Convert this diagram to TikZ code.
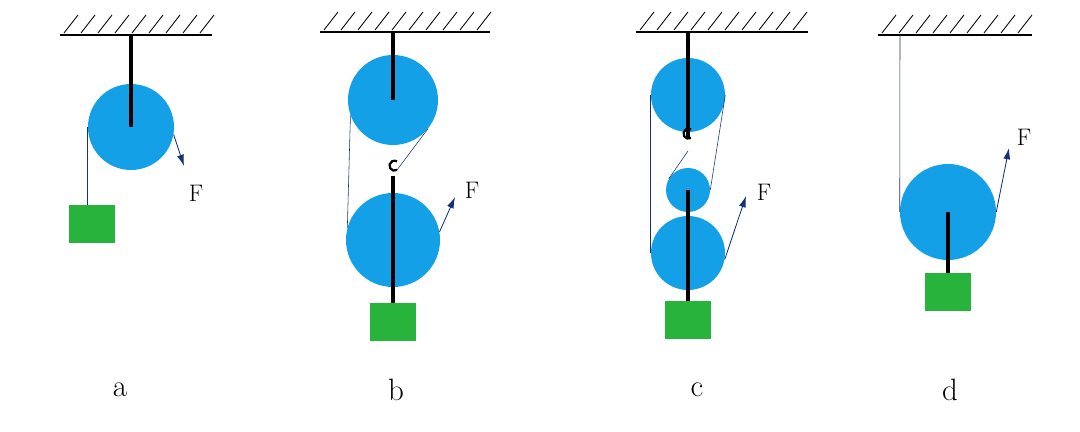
\documentclass[tikz,border=0pt]{standalone}
\usetikzlibrary{arrows.meta}

\definecolor{wheel}{RGB}{20,160,230}
\definecolor{load}{RGB}{40,180,60}
\definecolor{pull}{RGB}{20,50,120}

\tikzset{
  pulley/.style={circle,fill=wheel,inner sep=0pt,minimum size={#1*0.025cm}},
  block/.style={rectangle,fill=load,inner sep=0pt,minimum width=1.16cm,minimum height=0.95cm},
  rod/.style={line width=2.4pt,black},
  rope/.style={thin,pull},
  hook/.style={line width=1.6pt,black},
  force/.style={semithick,pull,-{Latex[length=8pt,width=5pt]}},
  tag/.style={font=\fontsize{22}{24}\selectfont},
  ftag/.style={font=\fontsize{17}{19}\selectfont}
}
\newcommand{\ceiling}[3]{% x1, x2, y
  \draw[line width=1.8pt] (#1,#3) -- (#2,#3);
  \foreach \k in {0,...,20} {
    \pgfmathsetmacro{\hx}{#1+4+\k*17}
    \ifdim \hx pt < #2 pt
      \draw[semithick] (\hx,#3-2) -- (\hx+14,#3-20);
    \fi
  }
}

\begin{document}
\begin{tikzpicture}[x=0.025cm,y=-0.025cm]
\useasboundingbox (0,0) rectangle (1080,432);

% a
\ceiling{60}{212}{35}
\coordinate (at) at (131,35);
\node[pulley=86] (ap) at (131,127) {};
\node[block] (ab) at (92,224) {};
\draw[rod] (at) -- (ap.center);
\draw[rope] (ap.west) -- (ap.west |- ab.north);
\coordinate (af) at (184,166);
\draw[force] (ap.-10) -- (af);
\node[ftag] (aF) at (196,193) {F};
\node[tag] (al) at (120,390) {a};

% b
\ceiling{320}{490}{32}
\coordinate (bt) at (393,32);
\node[pulley=90] (bp1) at (393,100) {};
\node[pulley=94] (bp2) at (393,240) {};
\node[block] (bb) at (393,322) {};
\coordinate (bh) at (393,176);
\draw[rod] (bt) -- (bp1.center);
\draw[rope] (bp1.200) -- (bp2.165);
\draw[rope] (bp1.-40) -- (397,170);
\draw[hook] (397,170) arc (60:300:5);
\draw[rod] (bh) -- (bb.north);
\coordinate (bf) at (455,197);
\draw[force] (bp2.10) -- (bf);
\node[ftag] (bF) at (472,190) {F};
\node[tag] (bl) at (396,390) {b};

% c
\ceiling{636}{808}{32}
\coordinate (ct) at (688,32);
\node[pulley=74] (cp1) at (688,95) {};
\node[pulley=44] (cp2) at (688,190) {};
\node[pulley=74] (cp3) at (688,253) {};
\node[block] (cb) at (688,320) {};
\coordinate (ch) at (688,138);
\draw[rod] (ct) -- (ch);
\draw[hook] (691,138) arc (60:300:5);
\draw[rope] (cp1.west) -- (cp3.west);
\draw[rope] (cp1.east) -- (cp2.east);
\draw[rope] (688,151) -- (cp2.150);
\draw[rod] (cp2.center) -- (cb.north);
\coordinate (cf) at (746,196);
\draw[force] (cp3.-10) -- (cf);
\node[ftag] (cF) at (764,192) {F};
\node[tag] (cl) at (697,390) {c};

% d
\ceiling{878}{1032}{35}
\coordinate (dt) at (900,35);
\node[pulley=96] (dp) at (948,212) {};
\node[block] (db) at (948,292) {};
\draw[rope] (dt) -- (dp.west);
\draw[rod] (dp.center) -- (db.north);
\coordinate (df) at (1009,148);
\draw[force] (dp.east) -- (df);
\node[ftag] (dF) at (1024,137) {F};
\node[tag] (dl) at (950,390) {d};
\end{tikzpicture}
\end{document}
